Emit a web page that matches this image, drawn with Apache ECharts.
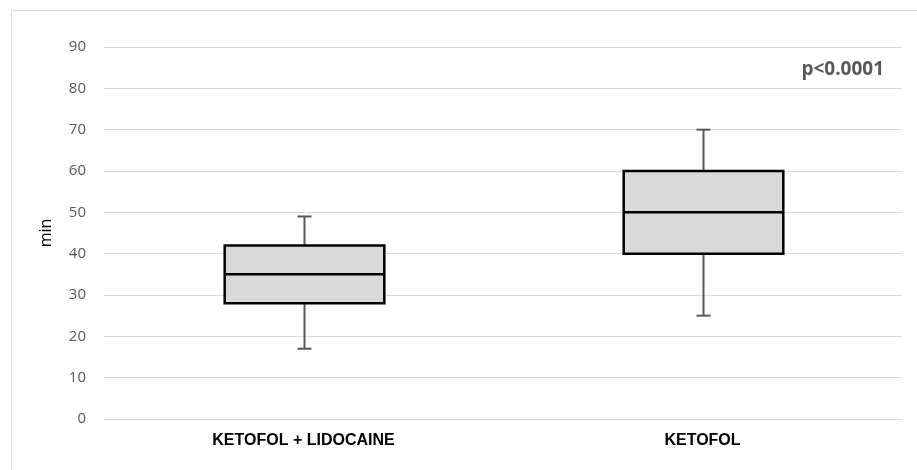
<!DOCTYPE html>
<html><head><meta charset="utf-8">
<script src="https://cdn.jsdelivr.net/npm/echarts@6/dist/echarts.min.js"></script>
<style>html,body{margin:0;padding:0;background:#fff}#c{width:917px;height:470px}</style>
</head><body><div id="c"></div>
<script>
const categories = ['KETOFOL + LIDOCAINE', 'KETOFOL'];
const whiskerLow = [17, 25];
const q1 = [28, 40];
const median = [35, 50];
const q3 = [42, 60];
const whiskerHigh = [49, 70];
const yTicks = [0, 10, 20, 30, 40, 50, 60, 70, 80, 90];
const pLabel = 'p<0.0001';

const data = categories.map((c, i) => [i, whiskerLow[i], q1[i], median[i], q3[i], whiskerHigh[i]]);
const FONT = 'Open Sans, Liberation Sans, sans-serif';

const chart = echarts.init(document.getElementById('c'), null, {renderer: 'canvas'});
chart.setOption({
  backgroundColor: '#fff',
  animation: false,
  grid: {left: 104, right: 15, top: 47, bottom: 51},
  graphic: [
    {type: 'rect', shape: {x: 11.5, y: 10.5, width: 950, height: 500}, style: {fill: 'none', stroke: '#d9d9d9', lineWidth: 1}, z: 0},
    {type: 'text', right: 33, top: 60, style: {text: pLabel, font: 'bold 19px ' + FONT, fill: '#595959'}}
  ],
  xAxis: {
    type: 'category', data: categories,
    axisLine: {show: false}, axisTick: {show: false},
    axisLabel: {color: '#000', fontWeight: 'bold', fontSize: 16, fontFamily: 'Liberation Sans, Arial, sans-serif', margin: 14}
  },
  yAxis: {
    type: 'value', min: yTicks[0], max: yTicks[yTicks.length - 1], interval: 10,
    name: 'min', nameLocation: 'middle', nameGap: 50, nameRotate: 90,
    nameTextStyle: {color: '#000', fontSize: 16, fontFamily: FONT},
    axisLine: {show: false}, axisTick: {show: false},
    axisLabel: {color: '#595959', fontSize: 15, fontFamily: FONT, margin: 18},
    splitLine: {lineStyle: {color: '#d9d9d9', width: 1}}
  },
  series: [{
    type: 'custom',
    data: data,
    encode: {x: 0, y: [1, 2, 3, 4, 5]},
    renderItem: function (params, api) {
      const x = api.value(0);
      const pLow = api.coord([x, api.value(1)]);
      const pQ1 = api.coord([x, api.value(2)]);
      const pMed = api.coord([x, api.value(3)]);
      const pQ3 = api.coord([x, api.value(4)]);
      const pHigh = api.coord([x, api.value(5)]);
      const band = api.size([1, 0])[0];
      const hw = band * 0.2;
      const cap = 7;
      const cx = Math.round(pQ1[0]) + 0.5;
      const gStyle = {stroke: '#595959', lineWidth: 2};
      const bStyle = {stroke: '#000', lineWidth: 2.5};
      return {type: 'group', children: [
        {type: 'line', shape: {x1: cx, y1: pQ3[1], x2: cx, y2: pHigh[1]}, style: gStyle},
        {type: 'line', shape: {x1: cx, y1: pQ1[1], x2: cx, y2: pLow[1]}, style: gStyle},
        {type: 'line', shape: {x1: cx - cap, y1: pHigh[1], x2: cx + cap, y2: pHigh[1]}, style: gStyle},
        {type: 'line', shape: {x1: cx - cap, y1: pLow[1], x2: cx + cap, y2: pLow[1]}, style: gStyle},
        {type: 'rect', shape: {x: cx - hw, y: pQ3[1], width: hw * 2, height: pQ1[1] - pQ3[1]}, style: {fill: '#d9d9d9', stroke: '#000', lineWidth: 2.5}},
        {type: 'line', shape: {x1: cx - hw, y1: pMed[1], x2: cx + hw, y2: pMed[1]}, style: bStyle}
      ]};
    }
  }]
});
</script></body></html>
